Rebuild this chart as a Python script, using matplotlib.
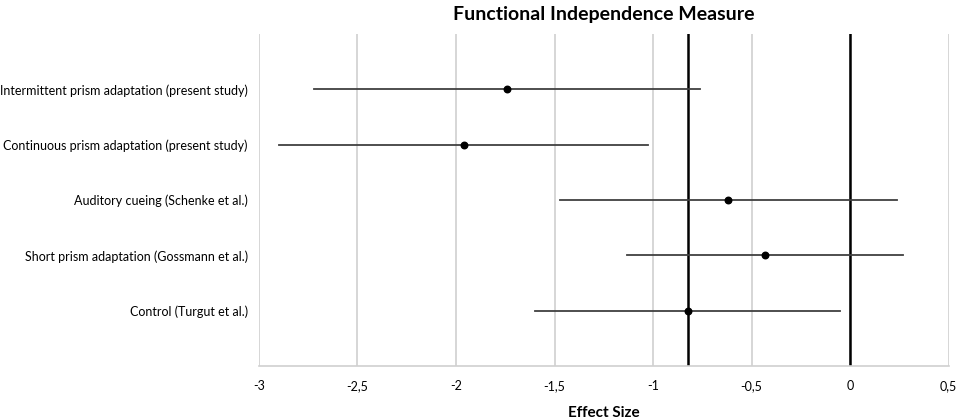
import numpy as np
import matplotlib
matplotlib.use("Agg")
import matplotlib.pyplot as plt
from matplotlib.ticker import FuncFormatter

plt.rcParams['font.family'] = ['Lato', 'DejaVu Sans']

# data, top row first
studies = ['Intermittent prism adaptation (present study)',
           'Continuous prism adaptation (present study)',
           'Auditory cueing (Schenke et al.)',
           'Short prism adaptation (Gossmann et al.)',
           'Control (Turgut et al.)']
effect = [-1.74, -1.96, -0.62, -0.43, -0.825]
ci_low = [-2.72, -2.90, -1.47, -1.13, -1.60]
ci_high = [-0.76, -1.025, 0.24, 0.27, -0.05]
ref_line = -0.825

fig = plt.figure(figsize=(9.57, 4.2), dpi=100)
ax = fig.add_axes([0.2706, 0.1286, 0.7206, 0.7905])

ypos = np.arange(len(studies), 0, -1)
for y, lo, hi in zip(ypos, ci_low, ci_high):
    ax.plot([lo, hi], [y, y], color='#404040', lw=1.3, zorder=3)
ax.scatter(effect, ypos, s=22, color='black', zorder=4)

ax.axvline(0, color='black', lw=1.8, zorder=2)
ax.axvline(ref_line, color='black', lw=1.8, zorder=2)

ax.set_xlim(-3, 0.5)
ax.set_ylim(0, 6)
ax.set_xticks(np.arange(-3, 0.51, 0.5))
ax.xaxis.set_major_formatter(FuncFormatter(lambda v, p: ('%g' % v).replace('.', ',')))
ax.set_yticks(ypos)
ax.set_yticklabels(studies, fontsize=9)
ax.tick_params(axis='x', length=0, labelsize=9, pad=10)
ax.tick_params(axis='y', length=0, pad=8)
ax.grid(axis='x', color='#d0d0d0', lw=1.2)
ax.set_axisbelow(True)
for s in ['top', 'right', 'left']:
    ax.spines[s].set_visible(False)
ax.spines['bottom'].set_color('#d0d0d0')
ax.spines['bottom'].set_linewidth(1.2)

ax.set_title('Functional Independence Measure', fontsize=14, fontweight='bold', pad=10)
ax.set_xlabel('Effect Size', fontsize=11, fontweight='bold', labelpad=10)

fig.savefig('out.png', dpi=100)
